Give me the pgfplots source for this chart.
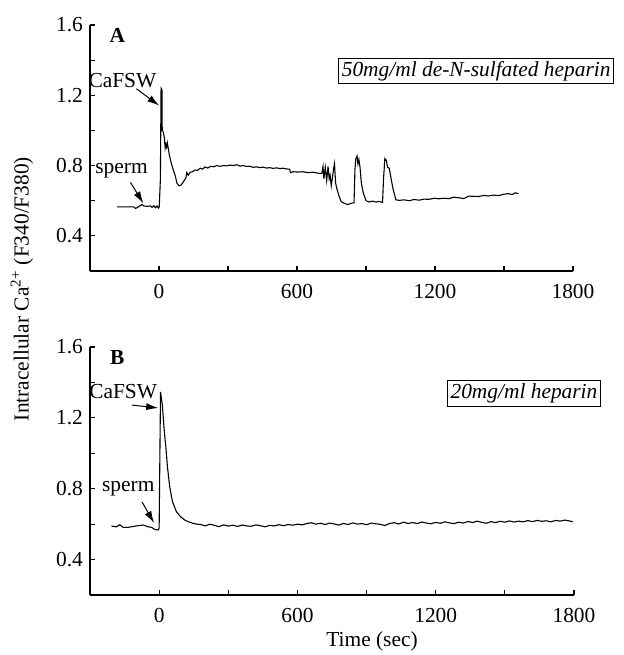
\documentclass[border=0pt]{standalone}
\usepackage{fontspec}
\setmainfont{Liberation Serif}
\usepackage{pgfplots}
\pgfplotsset{compat=1.18}
\usetikzlibrary{arrows.meta}
\newcommand\fs{\fontsize{10.7}{12.8}\selectfont}
\tikzset{arr/.style={-{Latex[length=6pt,width=3.6pt]}, line width=0.5pt}}
\pgfplotsset{
  myax/.style={
    scale only axis,
    anchor=south west,
    axis lines=left,
    axis line style={-, line width=0.75pt},
    tick style={black, line width=0.6pt},
    tick align=inside,
    major tick length=2.6pt,
    minor tick length=2.6pt,
    xmin=-300, xmax=1800, ymin=0.2, ymax=1.6,
    xtick={0,600,1200,1800},
    minor xtick={300,900,1500},
    ytick={0.4,0.8,1.2,1.6},
    minor ytick={0.6,1.0,1.4},
    yticklabel style={/pgf/number format/.cd, fixed, fixed zerofill, precision=1},
    xticklabel style={/pgf/number format/1000 sep={}, yshift=-3.2pt},
    /pgf/number format/assume math mode=true,
    tick label style={font=\fs},
    clip=false,
  },
  trace/.style={black, no marks, line width=0.55pt, sharp plot},
}
\begin{document}
\begin{tikzpicture}
\useasboundingbox (0,0) rectangle (312pt,327.5pt);
% Panel A
\begin{axis}[myax, at={(45pt,192pt)}, width=241.5pt, height=123pt]
\addplot[trace] coordinates {
(-182,0.565) (-138,0.565) (-110,0.565) (-102,0.556) (-88,0.566) (-74,0.578) (-66,0.570)
(-52,0.568) (-37,0.570) (-30,0.562) (-23,0.572) (-16,0.560) (-9,0.570) (-3,0.558) (1,0.565)
(6,0.72) (9,1.24) (13,1.23) (14,1.00) (19,0.99) (23,0.96) (27,0.90) (30,0.92) (33,0.905)
(36,0.93) (40,0.90) (45,0.86) (52,0.82) (61,0.78) (71,0.74) (78,0.70) (87,0.685) (97,0.69)
(107,0.71) (117,0.73) (121,0.76) (127,0.745) (136,0.762) (146,0.765) (157,0.775) (167,0.772)
(179,0.785) (190,0.78) (200,0.792) (212,0.786) (225,0.796) (237,0.793) (251,0.80) (265,0.796)
(280,0.800) (294,0.798) (309,0.803) (323,0.800) (338,0.805) (352,0.797) (366,0.800) (381,0.795)
(395,0.796) (410,0.790) (424,0.793) (438,0.788) (453,0.791) (467,0.786) (482,0.788) (496,0.784)
(511,0.787) (525,0.783) (539,0.785) (554,0.781) (568,0.779) (572,0.760) (583,0.765) (604,0.763)
(626,0.765) (648,0.760) (669,0.762) (687,0.758) (701,0.755) (708,0.756) (713,0.795) (717,0.725)
(723,0.790) (729,0.715) (735,0.795) (740,0.725) (744,0.745) (749,0.685) (755,0.74) (759,0.78)
(763,0.81) (768,0.70) (773,0.67) (782,0.63) (792,0.595) (806,0.585) (821,0.578) (835,0.585)
(848,0.588) (852,0.78) (856,0.84) (861,0.855) (865,0.81) (869,0.835) (874,0.79) (880,0.70)
(888,0.645) (900,0.60) (914,0.593) (929,0.598) (943,0.592) (958,0.596) (972,0.590) (976,0.72)
(982,0.84) (988,0.83) (994,0.79) (1001,0.785) (1010,0.72) (1018,0.665) (1030,0.605) (1044,0.602)
(1066,0.605) (1088,0.600) (1109,0.607) (1131,0.603) (1153,0.609) (1174,0.608) (1196,0.614)
(1217,0.611) (1239,0.614) (1261,0.612) (1282,0.620) (1304,0.617) (1325,0.612) (1347,0.626)
(1369,0.625) (1390,0.624) (1412,0.630) (1433,0.627) (1455,0.632) (1477,0.629) (1499,0.637)
(1520,0.640) (1535,0.635) (1549,0.645) (1563,0.640)
};
\node[font=\fs\bfseries] at (axis cs:-181,1.538) {A};
\node[draw, line width=0.5pt, inner sep=1.5pt, font=\fs\itshape] at (axis cs:1379,1.339) {50mg/ml de-N-sulfated heparin};
\node[font=\fs] at (axis cs:-159,1.283) {CaFSW};
\draw[arr] (axis cs:-98,1.237) -- (axis cs:1,1.141);
\node[font=\fs] at (axis cs:-163,0.772) {sperm};
\draw[arr] (axis cs:-124,0.704) -- (axis cs:-68,0.585);
\end{axis}
% Panel B
\begin{axis}[myax, at={(45pt,30pt)}, width=242pt, height=124pt]
\addplot[trace] coordinates {
(-207,0.589) (-185,0.585) (-171,0.597) (-156,0.582) (-135,0.582) (-98,0.590) (-69,0.595)
(-48,0.585) (-33,0.582) (-19,0.570) (-4,0.567) (0,0.576) (6,1.347) (14,1.27) (22,1.13)
(29,1.037) (36,0.924) (46,0.81) (58,0.726) (75,0.67) (93,0.642) (111,0.623) (126,0.614)
(148,0.604) (165,0.600)
(180,0.598) (200,0.590) (220,0.600) (240,0.593) (260,0.586) (280,0.596) (300,0.589) (320,0.594)
(340,0.587) (360,0.595) (380,0.590) (400,0.588) (420,0.596) (440,0.591) (460,0.585) (480,0.593)
(500,0.590) (520,0.597) (540,0.591) (560,0.598) (580,0.594) (600,0.600) (620,0.596) (640,0.603)
(660,0.608) (680,0.600) (700,0.605) (720,0.598) (740,0.606) (760,0.601) (780,0.595) (800,0.604)
(820,0.598) (840,0.607) (860,0.600) (880,0.603) (900,0.597) (920,0.606) (940,0.602) (960,0.599)
(980,0.592) (1000,0.604) (1020,0.608) (1040,0.601) (1060,0.611) (1080,0.604) (1100,0.609)
(1120,0.603) (1140,0.612) (1160,0.606) (1180,0.602) (1200,0.610) (1220,0.605) (1240,0.613)
(1260,0.607) (1280,0.603) (1300,0.611) (1320,0.606) (1340,0.615) (1360,0.609) (1380,0.617)
(1400,0.610) (1420,0.605) (1440,0.614) (1460,0.609) (1480,0.616) (1500,0.611) (1520,0.618)
(1540,0.612) (1560,0.617) (1580,0.613) (1600,0.620) (1620,0.614) (1640,0.621) (1660,0.616)
(1680,0.619) (1700,0.613) (1720,0.621) (1740,0.617) (1760,0.623) (1780,0.618) (1795,0.614)
};
\node[font=\fs\bfseries] at (axis cs:-182,1.538) {B};
\node[draw, line width=0.5pt, inner sep=1.5pt, font=\fs\itshape] at (axis cs:1583,1.337) {20mg/ml heparin};
\node[font=\fs] at (axis cs:-156,1.346) {CaFSW};
\draw[arr] (axis cs:-117,1.272) -- (axis cs:-4,1.256);
\node[font=\fs] at (axis cs:-134,0.798) {sperm};
\draw[arr] (axis cs:-74,0.725) -- (axis cs:-22,0.606);
\end{axis}
\node[rotate=90, font=\fs] at (11pt,183pt) {Intracellular Ca\textsuperscript{2+} (F340/F380)};
\node[font=\fs] at (186pt,7pt) {Time (sec)};
\end{tikzpicture}
\end{document}
